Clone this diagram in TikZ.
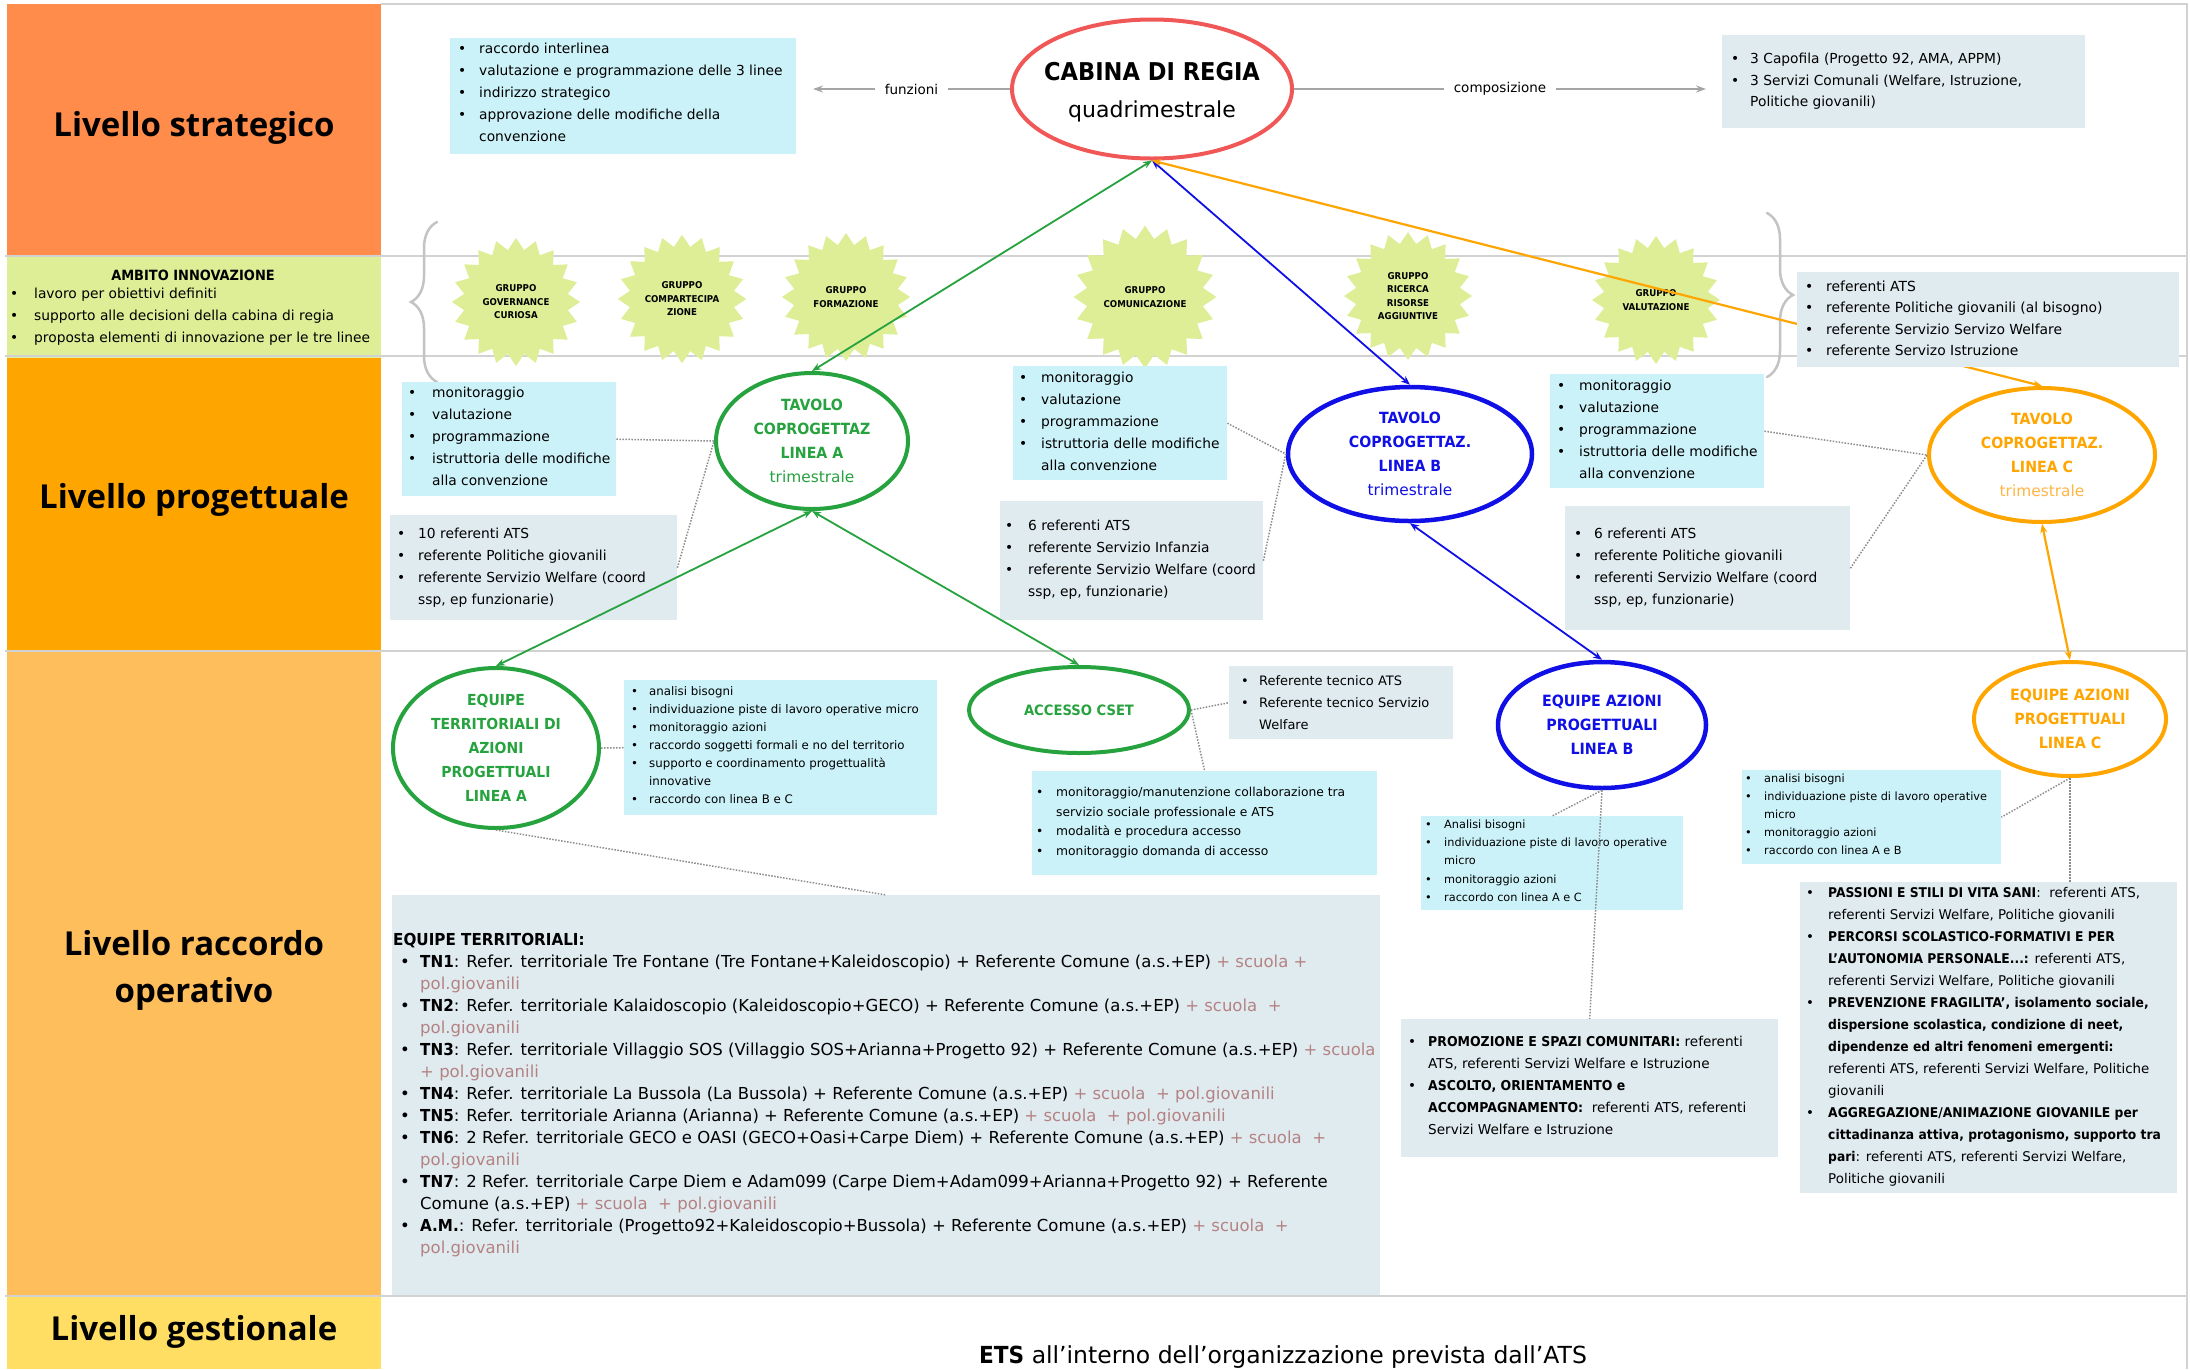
\documentclass[tikz,border=0pt]{standalone}
\usepackage{fontspec}
\setmainfont{DejaVu Sans}[BoldFeatures={FakeStretch=0.92}]
\newfontfamily\headf{Open Sans}
\usetikzlibrary{shapes.geometric,arrows.meta,decorations.pathreplacing}

\definecolor{cStrat}{RGB}{255,140,75}
\definecolor{cProg}{RGB}{255,165,0}
\definecolor{cOper}{RGB}{255,190,92}
\definecolor{cGest}{RGB}{255,222,99}
\definecolor{cInno}{RGB}{221,238,150}
\definecolor{cCyan}{RGB}{204,242,249}
\definecolor{cGray}{RGB}{224,235,240}
\definecolor{cLine}{RGB}{210,210,210}
\definecolor{cBrace}{RGB}{195,195,195}
\definecolor{cGreen}{RGB}{38,162,62}
\definecolor{cBlue}{RGB}{16,16,230}
\definecolor{cOrange}{RGB}{255,165,0}
\definecolor{cOrangeL}{RGB}{255,182,70}
\definecolor{cRed}{RGB}{240,88,88}
\definecolor{cArr}{RGB}{165,165,165}
\definecolor{cDot}{RGB}{140,140,140}
\definecolor{cRose}{RGB}{180,130,130}

\newcommand\fs[2]{\fontsize{#1}{#2}\selectfont}
\newcommand\strt[1]{\rule{0pt}{#1pt}}
\def\bgap{20}
\newcommand\bul{\makebox[\bgap pt][l]{\textbullet}}
\newcommand\cnt{\hspace*{\bgap pt}}
\newcommand\rose[1]{\textcolor{cRose}{#1}}

\tikzset{
 cbox/.style={fill=cCyan, inner sep=0pt, anchor=north west, draw=none},
 gbox/.style={fill=cGray, inner sep=0pt, anchor=north west, draw=none},
 txt/.style={anchor=north west, inner sep=0pt, align=left},
 oval/.style={ellipse, fill=white, inner sep=0pt, align=center, line width=4pt},
 burst/.style={star, star points=20, star point ratio=1.22, minimum size=128pt, inner sep=0pt, fill=cInno, align=center, font=\fs{9.4}{13.5}\bfseries},
 biarr/.style={{Stealth[length=9pt,width=7pt]}-{Stealth[length=9pt,width=7pt]}, line width=1.8pt},
 garr/.style={-{Stealth[length=10pt,width=7pt]}, line width=2.5pt, draw=cArr, color=cArr},
 lbl/.style={fill=white, text=black, inner xsep=10pt, inner ysep=2pt, font=\fs{13.5}{16}},
 dots/.style={draw=cDot, line width=1.5pt, dash pattern=on 1.5pt off 1.5pt},
 sepline/.style={draw=cLine, line width=2.5pt},
 bracestyle/.style={draw=cBrace, line width=2.5pt, line cap=round, decorate, decoration={brace,amplitude=26pt}},
 head/.style={font=\headf\bfseries\fs{33}{47}, align=center, inner sep=0pt},
}

\begin{document}
\begin{tikzpicture}[x=1pt,y=-1pt]
\useasboundingbox (0,0) rectangle (2190,1369);
\clip (0,0) rectangle (2190,1369);
\fill[white] (0,0) rectangle (2190,1369);

% left column bands
\fill[cStrat] (7,4) rectangle (381,257);
\fill[cInno] (7,257) rectangle (381,358);
\fill[cProg] (7,358) rectangle (381,651);
\fill[cOper] (7,651) rectangle (381,1296);
\fill[cGest] (7,1296) rectangle (381,1369);

\node[head] (hstrat) at (194,128) {Livello strategico};
\node[head] (hprog) at (194,500) {Livello progettuale};
\node[head] (hoper) at (194,970) {Livello raccordo\\operativo};
\node[head] (hgest) at (194,1332) {Livello gestionale};

\node[font=\fs{14.1}{16}\bfseries, inner sep=0pt] (ambh) at (193,275) {AMBITO INNOVAZIONE};
\def\bgap{24}
\node[txt, font=\fs{13.8}{22}] (ambt) at (10,284.9) {\strt{13.8}\bul lavoro per obiettivi definiti\\\bul supporto alle decisioni della cabina di regia\\\bul proposta elementi di innovazione per le tre linee};

% separator lines
\foreach \yy in {256,356,651,1296} \draw[sepline] (5,\yy) -- (2187,\yy);
\draw[sepline] (381,4) -- (2187,4) -- (2187,1369);

% braces
\draw[bracestyle] (437,382) -- (437,222);
\draw[bracestyle] (1767,213) -- (1767,377);

% innovation groups
\node[burst] (g1) at (516,302) {GRUPPO\\GOVERNANCE\\CURIOSA};
\node[burst] (g2) at (682,299) {GRUPPO\\COMPARTECIPA\\ZIONE};
\node[burst] (g3) at (846,297) {GRUPPO\\FORMAZIONE};
\node[burst] (g4) at (1145,297) {GRUPPO\\COMUNICAZIONE};
\node[burst] (g5) at (1408,296) {GRUPPO\\RICERCA\\RISORSE\\AGGIUNTIVE};
\node[burst] (g6) at (1656,300) {GRUPPO\\VALUTAZIONE};

% boxes
\node[cbox, minimum width=346pt, minimum height=116pt] (fbox) at (450,38) {};
\node[gbox, minimum width=363pt, minimum height=93pt] (cbx) at (1722,35) {};
\node[cbox, minimum width=214pt, minimum height=114pt] (pAc) at (402,382) {};
\node[gbox, minimum width=287pt, minimum height=105pt] (pAg) at (390,515) {};
\node[cbox, minimum width=214pt, minimum height=114pt] (pBc) at (1013,366) {};
\node[gbox, minimum width=263pt, minimum height=119pt] (pBg) at (1000,501) {};
\node[cbox, minimum width=214pt, minimum height=114pt] (pCc) at (1550,374) {};
\node[gbox, minimum width=285pt, minimum height=124pt] (pCg) at (1565,506) {};
\node[cbox, minimum width=313pt, minimum height=135pt] (oAc) at (624,680) {};
\node[gbox, minimum width=224pt, minimum height=73pt] (accg) at (1229,666) {};
\node[cbox, minimum width=345pt, minimum height=104pt] (accc) at (1032,771) {};
\node[cbox, minimum width=262pt, minimum height=94pt] (oBc) at (1421,816) {};
\node[cbox, minimum width=259pt, minimum height=94pt] (oCc) at (1742,770) {};
\node[gbox, minimum width=377pt, minimum height=138pt] (oBg) at (1401,1019) {};
\node[gbox, minimum width=377pt, minimum height=311pt] (oCg) at (1800,882) {};
\node[gbox, minimum width=988pt, minimum height=400pt] (etb) at (392,895) {};

% box texts
\def\bgap{21}
\node[txt, font=\fs{13.8}{22}] (ftx) at (458,39.9) {\strt{13.8}\bul raccordo interlinea\\\bul valutazione e programmazione delle 3 linee\\\bul indirizzo strategico\\\bul approvazione delle modifiche della\\\cnt convenzione};
\def\bgap{19}
\node[txt, font=\fs{13.8}{21.5}] (ctx) at (1731,49.9) {\strt{13.8}\bul 3 Capofila (Progetto 92, AMA, APPM)\\\bul 3 Servizi Comunali (Welfare, Istruzione,\\\cnt Politiche giovanili)};
\def\bgap{24}
\node[txt, font=\fs{13.8}{22}] (pAct) at (408,383.9) {\strt{13.8}\bul monitoraggio\\\bul valutazione\\\bul programmazione\\\bul istruttoria delle modifiche\\\cnt alla convenzione};
\def\bgap{21}
\node[txt, font=\fs{13.8}{22}] (pAgt) at (397,524.9) {\strt{13.8}\bul 10 referenti ATS\\\bul referente Politiche giovanili\\\bul referente Servizio Welfare (coord\\\cnt ssp, ep funzionarie)};
\def\bgap{22}
\node[txt, font=\fs{13.8}{22}] (pBct) at (1019,368.9) {\strt{13.8}\bul monitoraggio\\\bul valutazione\\\bul programmazione\\\bul istruttoria delle modifiche\\\cnt alla convenzione};
\def\bgap{23}
\node[txt, font=\fs{13.8}{22}] (pBgt) at (1005,516.9) {\strt{13.8}\bul 6 referenti ATS\\\bul referente Servizio Infanzia\\\bul referente Servizio Welfare (coord\\\cnt ssp, ep, funzionarie)};
\def\bgap{22}
\node[txt, font=\fs{13.8}{22}] (pCct) at (1557,376.9) {\strt{13.8}\bul monitoraggio\\\bul valutazione\\\bul programmazione\\\bul istruttoria delle modifiche\\\cnt alla convenzione};
\def\bgap{20}
\node[txt, font=\fs{13.8}{22}] (pCgt) at (1574,524.9) {\strt{13.8}\bul 6 referenti ATS\\\bul referente Politiche giovanili\\\bul referenti Servizio Welfare (coord\\\cnt ssp, ep, funzionarie)};
\def\bgap{18}
\node[txt, font=\fs{11.8}{18}] (oAct) at (631,683.4) {\strt{11.8}\bul analisi bisogni\\\bul individuazione piste di lavoro operative micro\\\bul monitoraggio azioni\\\bul raccordo soggetti formali e no del territorio\\\bul supporto e coordinamento progettualità\\\cnt innovative\\\bul raccordo con linea B e C};
\def\bgap{18}
\node[txt, font=\fs{13}{22}] (accgt) at (1241,672.5) {\strt{13}\bul Referente tecnico ATS\\\bul Referente tecnico Servizio\\\cnt Welfare};
\def\bgap{20}
\node[txt, font=\fs{12.3}{19.5}] (accct) at (1036,784) {\strt{12.3}\bul monitoraggio/manutenzione collaborazione tra\\\cnt servizio sociale professionale e ATS\\\bul modalità e procedura accesso\\\bul monitoraggio domanda di accesso};
\def\bgap{19}
\node[txt, font=\fs{11.3}{18.3}] (oBct) at (1425,816.8) {\strt{11.3}\bul Analisi bisogni\\\bul individuazione piste di lavoro operative\\\cnt micro\\\bul monitoraggio azioni\\\bul raccordo con linea A e C};
\node[txt, font=\fs{11.3}{18}] (oCct) at (1745,770.8) {\strt{11.3}\bul analisi bisogni\\\bul individuazione piste di lavoro operative\\\cnt micro\\\bul monitoraggio azioni\\\bul raccordo con linea A e B};
\def\bgap{20}
\node[txt, font=\fs{13.6}{22}] (oBgt) at (1408,1033) {\strt{13.6}\bul\textbf{PROMOZIONE E SPAZI COMUNITARI:} referenti\\\cnt ATS, referenti Servizi Welfare e Istruzione\\\bul\textbf{ASCOLTO, ORIENTAMENTO e}\\\cnt\textbf{ACCOMPAGNAMENTO:}\ \ referenti ATS, referenti\\\cnt Servizi Welfare e Istruzione};
\def\bgap{22}
\node[txt, font=\fs{13.4}{22}] (oCgt) at (1806,884.2) {\strt{13.4}\bul\textbf{PASSIONI E STILI DI VITA SANI}:\ \ referenti ATS,\\
\cnt referenti Servizi Welfare, Politiche giovanili\\
\bul\textbf{PERCORSI SCOLASTICO-FORMATIVI E PER}\\
\cnt\textbf{L'AUTONOMIA PERSONALE...:} referenti ATS,\\
\cnt referenti Servizi Welfare, Politiche giovanili\\
\bul\textbf{PREVENZIONE FRAGILITA', isolamento sociale,}\\
\cnt\textbf{dispersione scolastica, condizione di neet,}\\
\cnt\textbf{dipendenze ed altri fenomeni emergenti:}\\
\cnt referenti ATS, referenti Servizi Welfare, Politiche\\
\cnt giovanili\\
\bul\textbf{AGGREGAZIONE/ANIMAZIONE GIOVANILE per}\\
\cnt\textbf{cittadinanza attiva, protagonismo, supporto tra}\\
\cnt\textbf{pari}: referenti ATS, referenti Servizi Welfare,\\
\cnt Politiche giovanili};
\def\bgap{20}
\node[txt, font=\fs{16.5}{22}] (ett) at (400,929) {\strt{16.5}\hspace*{-7pt}\textbf{EQUIPE TERRITORIALI:}\\
\bul\textbf{TN1}: Refer. territoriale Tre Fontane (Tre Fontane+Kaleidoscopio) + Referente Comune (a.s.+EP) \rose{+ scuola +}\\
\cnt\rose{pol.giovanili}\\
\bul\textbf{TN2}: Refer. territoriale Kalaidoscopio (Kaleidoscopio+GECO) + Referente Comune (a.s.+EP) \rose{+ scuola\ \ +}\\
\cnt\rose{pol.giovanili}\\
\bul\textbf{TN3}: Refer. territoriale Villaggio SOS (Villaggio SOS+Arianna+Progetto 92) + Referente Comune (a.s.+EP) \rose{+ scuola}\\
\cnt\rose{+ pol.giovanili}\\
\bul\textbf{TN4}: Refer. territoriale La Bussola (La Bussola) + Referente Comune (a.s.+EP) \rose{+ scuola\ \ + pol.giovanili}\\
\bul\textbf{TN5}: Refer. territoriale Arianna (Arianna) + Referente Comune (a.s.+EP) \rose{+ scuola\ \ + pol.giovanili}\\
\bul\textbf{TN6}: 2 Refer. territoriale GECO e OASI (GECO+Oasi+Carpe Diem) + Referente Comune (a.s.+EP) \rose{+ scuola\ \ +}\\
\cnt\rose{pol.giovanili}\\
\bul\textbf{TN7}: 2 Refer. territoriale Carpe Diem e Adam099 (Carpe Diem+Adam099+Arianna+Progetto 92) + Referente\\
\cnt Comune (a.s.+EP) \rose{+ scuola\ \ + pol.giovanili}\\
\bul\textbf{A.M.}: Refer. territoriale (Progetto92+Kaleidoscopio+Bussola) + Referente Comune (a.s.+EP) \rose{+ scuola\ \ +}\\
\cnt\rose{pol.giovanili}};

% ellipses
\node[oval, draw=cRed, minimum width=280pt, minimum height=139pt, font=\fs{24.5}{37}] (cab) at (1152,89) {\makebox[0pt]{\strt{24}\bfseries CABINA DI REGIA}\\\makebox[0pt]{\fs{22}{37}quadrimestrale}};
\node[oval, draw=cGreen, text=cGreen, minimum width=192pt, minimum height=136pt, font=\fs{15.4}{24}] (tavA) at (812,441) {\textbf{TAVOLO}\\\textbf{COPROGETTAZ}\\\textbf{LINEA A}\\trimestrale};
\node[oval, draw=cBlue, text=cBlue, line width=4.5pt, minimum width=244pt, minimum height=134pt, font=\fs{15.4}{24}] (tavB) at (1410,454) {\textbf{TAVOLO}\\\textbf{COPROGETTAZ.}\\\textbf{LINEA B}\\trimestrale};
\node[oval, draw=cOrange, text=cOrange, minimum width=226pt, minimum height=134pt, font=\fs{15.4}{24}] (tavC) at (2042,455) {\textbf{TAVOLO}\\\textbf{COPROGETTAZ.}\\\textbf{LINEA C}\\\textcolor{cOrangeL}{trimestrale}};
\node[oval, draw=cGreen, text=cGreen, minimum width=206pt, minimum height=160pt, font=\fs{15.2}{24}\bfseries] (eqA) at (496,748) {EQUIPE\\TERRITORIALI DI\\AZIONI\\PROGETTUALI\\LINEA A};
\node[oval, draw=cGreen, text=cGreen, minimum width=220pt, minimum height=86pt, font=\fs{14.3}{20}\bfseries] (acc) at (1079,710) {ACCESSO CSET};
\node[oval, draw=cBlue, text=cBlue, line width=4.5pt, minimum width=208pt, minimum height=126pt, font=\fs{15.5}{24}\bfseries] (eqB) at (1602,725) {EQUIPE AZIONI\\PROGETTUALI\\LINEA B};
\node[oval, draw=cOrange, text=cOrange, minimum width=192pt, minimum height=114pt, font=\fs{15.5}{24}\bfseries] (eqC) at (2070,719) {EQUIPE AZIONI\\PROGETTUALI\\LINEA C};

% gray arrows
\coordinate (fz) at (813,89);
\coordinate (cz) at (1706,89);
\draw[garr] (cab.west) -- node[lbl] (lf) {funzioni} (fz);
\draw[garr] (cab.east) -- node[lbl] (lc) {composizione} (cz);

% coloured connectors
\draw[biarr, color=cGreen] (tavA.north) -- (cab.south);
\draw[biarr, color=cBlue] (tavB.north) -- (cab.south);
\draw[biarr, color=cOrange, line width=2.2pt] (tavC.north) -- (cab.south);
\draw[biarr, color=cGreen] (tavA.south) -- (eqA.north);
\draw[biarr, color=cGreen] (tavA.south) -- (acc.north);
\draw[biarr, color=cBlue] (tavB.south) -- (eqB.north);
\draw[biarr, color=cOrange, line width=2.2pt] (tavC.south) -- (eqC.north);

% referents box on top of the orange line
\node[gbox, minimum width=382pt, minimum height=95pt] (rbox) at (1797,272) {};
\def\bgap{21}
\node[txt, font=\fs{13.9}{21.5}] (rtx) at (1805,276.9) {\strt{13.9}\bul referenti ATS\\\bul referente Politiche giovanili (al bisogno)\\\bul referente Servizio Servizo Welfare\\\bul referente Servizo Istruzione};

% dotted connectors
\draw[dots] (pAc.east) -- (tavA.west);
\draw[dots] (pAg.east) -- (tavA.west);
\draw[dots] (pBc.east) -- (tavB.west);
\draw[dots] (pBg.east) -- (tavB.west);
\draw[dots] (pCc.east) -- (tavC.west);
\draw[dots] (pCg.east) -- (tavC.west);
\draw[dots] (eqA.east) -- (oAc.west);
\draw[dots] (acc.east) -- (accg.west);
\draw[dots] (acc.east) -- (accc.north);
\draw[dots] (eqA.south) -- (etb.north);
\draw[dots] (eqB.south) -- (oBc.north);
\draw[dots] (eqB.south) -- (oBg.north);
\draw[dots] (eqC.south) -- (oCc.east);
\draw[dots] (eqC.south) -- (eqC.south |- oCg.north);

% gestionale text
\node[anchor=base, font=\fs{23.5}{28}, inner sep=0pt] (ets) at (1283,1363) {\textbf{ETS} all'interno dell'organizzazione prevista dall'ATS};
\end{tikzpicture}
\end{document}
